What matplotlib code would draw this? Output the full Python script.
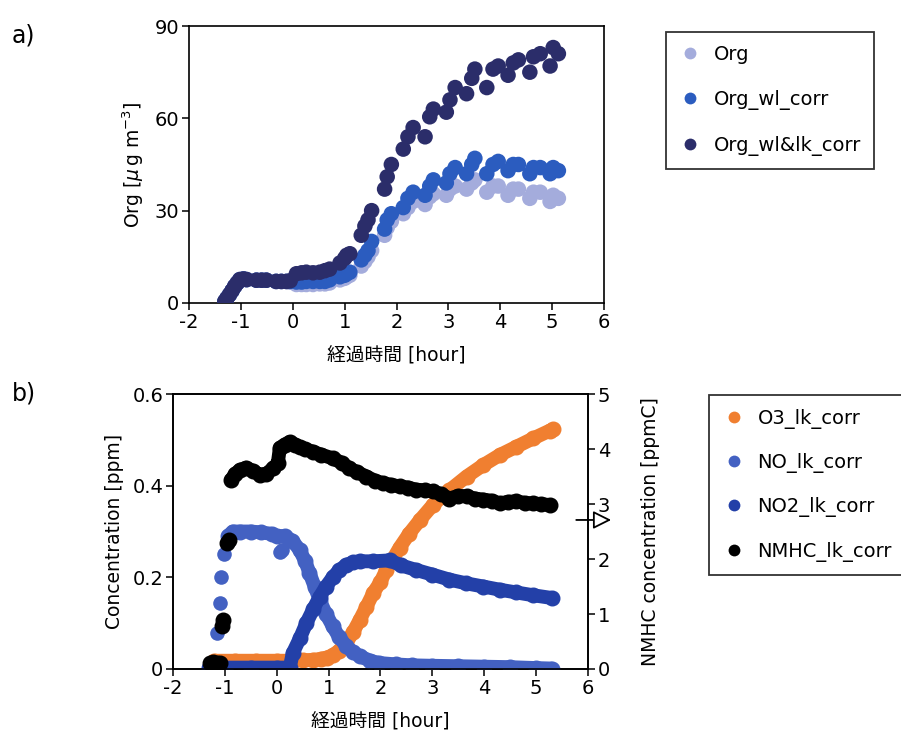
import matplotlib
matplotlib.use('Agg')
import matplotlib.pyplot as plt
from matplotlib.lines import Line2D

plt.rcParams['font.family'] = ['DejaVu Sans', 'Noto Sans CJK JP']
plt.rcParams['mathtext.fontset'] = 'dejavusans'
plt.rcParams['axes.unicode_minus'] = False

# ---------------- panel a) data ----------------
org_t = [-1.31, -1.27, -1.22, -1.17, -1.12, -1.07, -1.02, -0.95, -0.89, -0.70, -0.60, -0.51,
         -0.32, -0.22, -0.12, -0.05, 0.07, 0.17, 0.26, 0.39, 0.52, 0.62, 0.71, 0.91, 1.0, 1.04, 1.10,
         1.32, 1.39, 1.45, 1.52, 1.77, 1.82, 1.90, 2.13, 2.22, 2.32, 2.55, 2.64, 2.71,
         2.96, 3.03, 3.13, 3.35, 3.45, 3.51, 3.74, 3.86, 3.96, 4.15, 4.25, 4.35,
         4.57, 4.64, 4.77, 4.96, 5.02, 5.12]
org = [0.5, 1.5, 2.7, 4.0, 5.4, 6.5, 7.6, 7.8, 7.6, 7.4, 7.4, 7.4,
       7.0, 7.0, 7.0, 6.8, 6.0, 6.0, 6.0, 6.0, 6.2, 6.2, 6.5, 7.5, 8.0, 8.5, 9.0,
       12.0, 13.5, 15.0, 17.0, 22.0, 24.5, 26.5, 29.0, 31.0, 33.0, 32.0, 34.5, 35.5,
       35.0, 37.0, 38.0, 37.0, 39.0, 40.0, 36.0, 38.0, 38.0, 35.0, 37.0, 37.0,
       34.0, 36.0, 36.0, 33.0, 35.0, 34.0]
org_wl = [0.5, 1.5, 2.7, 4.0, 5.4, 6.5, 7.6, 7.8, 7.6, 7.4, 7.4, 7.4,
          7.0, 7.0, 7.0, 7.0, 6.8, 6.8, 7.0, 7.0, 7.0, 7.0, 7.5, 8.5, 9.0, 9.5, 10.0,
          14.0, 15.5, 17.0, 20.0, 24.0, 27.0, 29.0, 31.0, 34.0, 36.0, 35.0, 38.0, 40.0,
          39.0, 42.0, 44.0, 42.0, 45.0, 47.0, 42.0, 45.0, 46.0, 43.0, 45.0, 45.0,
          42.0, 44.0, 44.0, 42.0, 44.0, 43.0]
org_wllk = [0.5, 1.5, 2.7, 4.0, 5.4, 6.5, 7.6, 7.8, 7.6, 7.4, 7.4, 7.4,
            7.0, 7.0, 7.0, 7.2, 9.5, 9.8, 10.0, 9.8, 10.0, 10.5, 11.0, 13.0, 14.5, 15.5, 16.0,
            22.0, 25.0, 27.0, 30.0, 37.0, 41.0, 45.0, 50.0, 54.0, 57.0, 54.0, 60.5, 63.0,
            62.0, 66.0, 70.0, 68.0, 73.0, 76.0, 70.0, 76.0, 77.0, 74.0, 78.0, 79.0,
            75.0, 80.0, 81.0, 77.0, 83.0, 81.0]

# ---------------- panel b) data ----------------
o3_t = [-1.2, -0.8, -0.4, 0.0, 0.3, 0.5, 0.7, 0.85, 0.96, 1.08, 1.2, 1.34, 1.47, 1.6, 1.73,
        1.86, 2.0, 2.11, 2.24, 2.37, 2.55, 2.76, 3.01, 3.33, 3.66, 3.98, 4.3, 4.62, 4.94, 5.26, 5.32]
o3 = [0.018, 0.018, 0.018, 0.018, 0.018, 0.019, 0.02, 0.022, 0.025, 0.03, 0.04, 0.057, 0.08,
      0.107, 0.136, 0.166, 0.19, 0.216, 0.24, 0.265, 0.295, 0.325, 0.358, 0.39, 0.42, 0.445,
      0.467, 0.485, 0.503, 0.52, 0.523]

no_dots_t = [-1.16, -1.09, -1.07, -1.02, 0.06, 0.10]
no_dots = [0.078, 0.145, 0.2, 0.25, 0.255, 0.26]
no_t = [-0.94, -0.85, -0.7, -0.5, -0.3, -0.1, 0.0, 0.15, 0.3, 0.44, 0.55, 0.63, 0.73, 0.83,
        0.95, 1.08, 1.2, 1.34, 1.47, 1.6, 1.8, 1.98, 2.3, 2.6, 3.0, 3.5, 4.0, 4.5, 5.0, 5.3]
no = [0.29, 0.3, 0.3, 0.3, 0.298, 0.295, 0.29, 0.29, 0.28, 0.26, 0.235, 0.21, 0.18, 0.15,
      0.12, 0.093, 0.07, 0.05, 0.037, 0.028, 0.018, 0.013, 0.01, 0.008, 0.007, 0.006, 0.005,
      0.004, 0.002, 0.001]

no2_t = [-1.3, -1.0, -0.5, 0.0, 0.25, 0.31, 0.45, 0.57, 0.7, 0.83, 0.95, 1.08, 1.2, 1.34,
         1.47, 1.6, 1.86, 2.18, 2.4, 2.69, 3.0, 3.33, 3.65, 3.98, 4.3, 4.62, 4.94, 5.3]
no2 = [0.003, 0.003, 0.003, 0.003, 0.003, 0.035, 0.068, 0.1, 0.13, 0.158, 0.18, 0.2, 0.215,
       0.227, 0.233, 0.235, 0.235, 0.237, 0.226, 0.216, 0.206, 0.195, 0.187, 0.18, 0.173,
       0.167, 0.161, 0.155]

nmhc_dots_t = [-1.28, -1.22, -1.15, -1.10, -1.06, -1.03, -0.96, -0.92]
nmhc_dots = [0.10, 0.12, 0.10, 0.11, 0.78, 0.90, 2.29, 2.35]
nmhc_t = [-0.88, -0.8, -0.71, -0.59, -0.45, -0.33, -0.2, -0.07, 0.02, 0.06, 0.15, 0.25, 0.35,
          0.44, 0.55, 0.7, 0.85, 1.08, 1.25, 1.4, 1.55, 1.73, 1.9, 2.05, 2.2, 2.37, 2.53, 2.69,
          2.85, 3.01, 3.17, 3.33, 3.5, 3.66, 3.82, 3.98, 4.14, 4.3, 4.46, 4.62, 4.78, 4.94,
          5.1, 5.26]
nmhc = [3.44, 3.55, 3.62, 3.66, 3.6, 3.53, 3.55, 3.65, 3.74, 4.02, 4.08, 4.13, 4.08, 4.04,
        4.0, 3.95, 3.9, 3.83, 3.75, 3.65, 3.58, 3.5, 3.42, 3.38, 3.35, 3.32, 3.3, 3.26, 3.25,
        3.23, 3.18, 3.1, 3.15, 3.14, 3.1, 3.08, 3.06, 3.01, 3.04, 3.05, 3.02, 3.01, 3.0, 2.98]

c_org = '#a4acdc'
c_wl = '#2b5cbf'
c_wllk = '#2b2d6a'
c_o3 = '#f07f30'
c_no = '#4361c2'
c_no2 = '#2340a8'
c_nmhc = 'black'

fs = 13.5
fig = plt.figure(figsize=(9.01, 7.35), dpi=100)


def style_axes(ax):
    for s in ax.spines.values():
        s.set_linewidth(1.2)
    ax.tick_params(direction='out', length=5, width=1.1, labelsize=14, pad=2)


# ---- a) ----
ax1 = fig.add_axes([0.2098, 0.5878, 0.4606, 0.3768])
ax1.scatter(org_t, org, s=125, color=c_org, edgecolors='none', zorder=2)
ax1.scatter(org_t, org_wl, s=125, color=c_wl, edgecolors='none', zorder=3)
ax1.scatter(org_t, org_wllk, s=125, color=c_wllk, edgecolors='none', zorder=4)
ax1.set_xlim(-2, 6)
ax1.set_ylim(0, 90)
ax1.set_xticks(range(-2, 7))
ax1.set_yticks([0, 30, 60, 90])
ax1.set_xlabel('経過時間 [hour]', fontsize=fs, labelpad=11)
ax1.set_ylabel(r'Org [$\mu\,$g m$^{-3}$]', fontsize=fs, labelpad=6)
style_axes(ax1)

h1 = [Line2D([], [], ls='', marker='o', ms=8.5, color=c, mec='none') for c in (c_org, c_wl, c_wllk)]
fig.legend(h1, ['Org', 'Org_wl_corr', 'Org_wl&lk_corr'], loc='upper left',
           bbox_to_anchor=(666 / 901, 1 - 32 / 735), fontsize=14, frameon=True,
           fancybox=False, edgecolor='black', labelspacing=1.35, handletextpad=0.6,
           borderpad=0.65, handlelength=1.2, borderaxespad=0).get_frame().set_linewidth(1.3)

# ---- b) ----
ax2 = fig.add_axes([0.192, 0.0898, 0.4606, 0.3741])
lw, ms = 10, 10.5
ax2.plot(o3_t, o3, color=c_o3, lw=lw, marker='o', ms=ms, solid_capstyle='round',
         solid_joinstyle='round', zorder=2)
ax2.plot(no_t, no, color=c_no, lw=lw, marker='o', ms=ms, solid_capstyle='round',
         solid_joinstyle='round', zorder=3)
ax2.plot(no_dots_t, no_dots, ls='', color=c_no, marker='o', ms=ms, mec='none', zorder=3)
ax2.plot(no2_t, no2, color=c_no2, lw=lw, marker='o', ms=ms, solid_capstyle='round',
         solid_joinstyle='round', zorder=4)
ax2.set_xlim(-2, 6)
ax2.set_ylim(0, 0.6)
ax2.set_xticks(range(-2, 7))
ax2.set_yticks([0, 0.2, 0.4, 0.6])
ax2.set_yticklabels(['0', '0.2', '0.4', '0.6'])
ax2.set_xlabel('経過時間 [hour]', fontsize=fs, labelpad=11)
ax2.set_ylabel('Concentration [ppm]', fontsize=fs, labelpad=6)
style_axes(ax2)

ax3 = ax2.twinx()
ax3.plot(nmhc_t, nmhc, color=c_nmhc, lw=lw, marker='o', ms=ms, solid_capstyle='round',
         solid_joinstyle='round')
ax3.plot(nmhc_dots_t, nmhc_dots, ls='', color=c_nmhc, marker='o', ms=ms)
ax3.set_ylim(0, 5)
ax3.set_yticks(range(0, 6))
ax3.set_ylabel('NMHC concentration [ppmC]', fontsize=fs, labelpad=22)
style_axes(ax3)
ax3.annotate('', xy=(6.5, 2.71), xytext=(5.72, 2.71),
             arrowprops=dict(arrowstyle='-|>,head_length=1.1,head_width=0.55',
                             fc='white', ec='black', lw=1.3),
             annotation_clip=False)

h2 = [Line2D([], [], ls='', marker='o', ms=8.5, color=c, mec='none')
      for c in (c_o3, c_no, c_no2, c_nmhc)]
fig.legend(h2, ['O3_lk_corr', 'NO_lk_corr', 'NO2_lk_corr', 'NMHC_lk_corr'], loc='upper left',
           bbox_to_anchor=(709 / 901, 1 - 395 / 735), fontsize=14, frameon=True,
           fancybox=False, edgecolor='black', labelspacing=1.25, handletextpad=0.6,
           borderpad=0.7, handlelength=1.2, borderaxespad=0).get_frame().set_linewidth(1.3)

fig.text(12 / 901, 1 - 36 / 735, 'a)', fontsize=17, va='center')
fig.text(12 / 901, 1 - 393 / 735, 'b)', fontsize=17, va='center')

fig.savefig('out.png', dpi=100, facecolor='white')
